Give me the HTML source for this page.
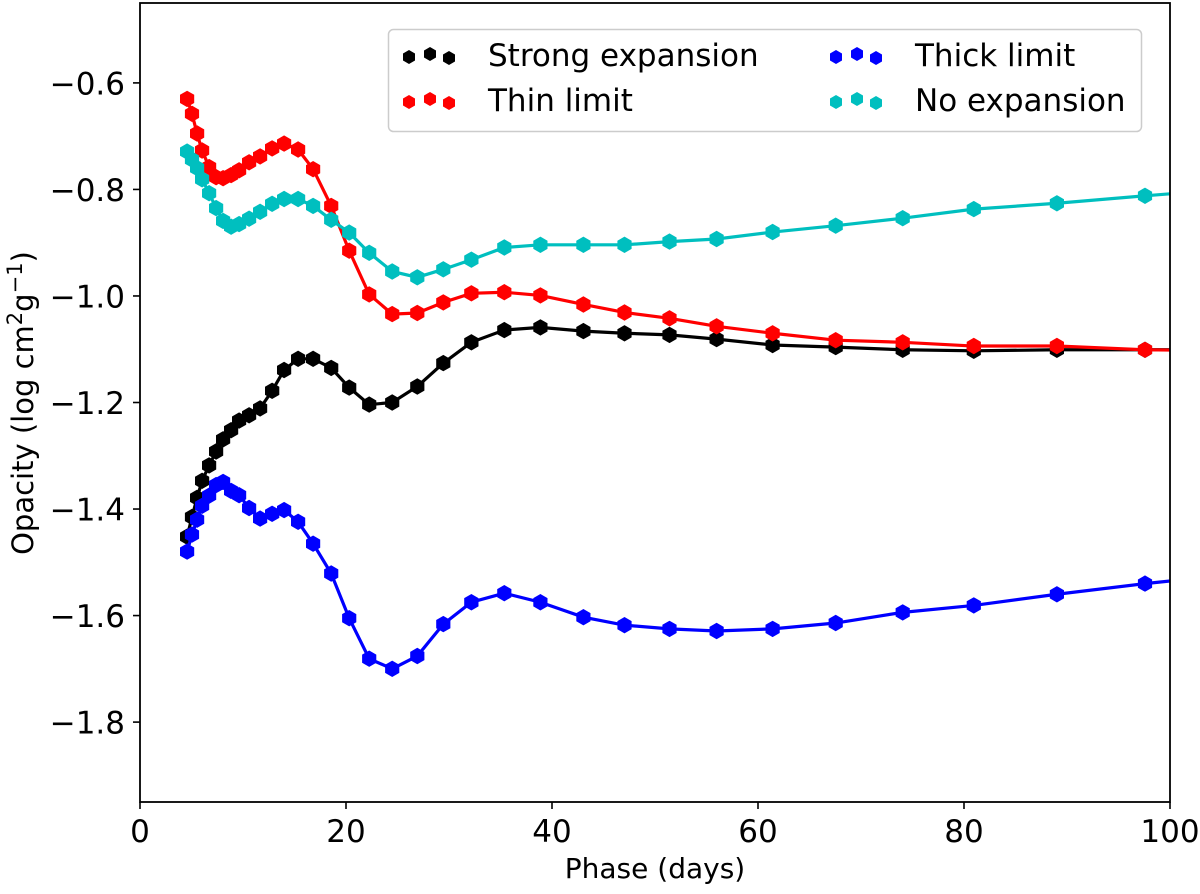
<!DOCTYPE html>
<html><head><meta charset="utf-8"><style>
body{margin:0;background:#fff}
svg text{font-family:"DejaVu Sans","Liberation Sans",sans-serif;fill:#000}
</style></head><body>
<svg id="chart" width="1200" height="889" xmlns="http://www.w3.org/2000/svg"></svg>
<script>
const phase=[4.57,5.05,5.54,6.03,6.71,7.39,8.07,8.84,9.62,10.59,11.66,12.83,13.99,15.35,16.81,18.56,20.31,22.25,24.49,26.92,29.45,32.17,35.37,38.87,43.05,47.04,51.41,55.98,61.42,67.54,74.05,80.95,89.02,97.57,106.5];
const strongExpansion=[-1.452,-1.415,-1.379,-1.347,-1.318,-1.292,-1.269,-1.252,-1.234,-1.224,-1.211,-1.178,-1.139,-1.118,-1.118,-1.135,-1.172,-1.204,-1.200,-1.170,-1.126,-1.087,-1.064,-1.059,-1.066,-1.070,-1.073,-1.081,-1.092,-1.096,-1.101,-1.103,-1.101,-1.101,-1.101];
const thinLimit=[-0.630,-0.658,-0.695,-0.727,-0.758,-0.777,-0.779,-0.773,-0.764,-0.749,-0.738,-0.723,-0.714,-0.725,-0.762,-0.831,-0.915,-0.997,-1.034,-1.032,-1.012,-0.995,-0.993,-0.999,-1.016,-1.031,-1.042,-1.057,-1.070,-1.083,-1.087,-1.094,-1.094,-1.101,-1.103];
const thickLimit=[-1.480,-1.448,-1.420,-1.394,-1.375,-1.355,-1.349,-1.366,-1.374,-1.398,-1.418,-1.409,-1.402,-1.424,-1.465,-1.521,-1.605,-1.681,-1.700,-1.676,-1.616,-1.575,-1.558,-1.575,-1.603,-1.618,-1.625,-1.629,-1.625,-1.614,-1.594,-1.581,-1.560,-1.540,-1.522];
const noExpansion=[-0.729,-0.744,-0.760,-0.781,-0.807,-0.835,-0.859,-0.870,-0.865,-0.855,-0.842,-0.827,-0.818,-0.818,-0.831,-0.857,-0.881,-0.919,-0.954,-0.965,-0.950,-0.932,-0.909,-0.904,-0.904,-0.904,-0.898,-0.893,-0.880,-0.868,-0.854,-0.837,-0.826,-0.812,-0.798];
const xTicks=[0,20,40,60,80,100];
const yTicks=[-0.6,-0.8,-1.0,-1.2,-1.4,-1.6,-1.8];

const L=140,R=1170,T=3,B=802,X0=0,X1=100,Y0=-1.95,Y1=-0.45;
const sx=v=>L+(v-X0)/(X1-X0)*(R-L);
const sy=v=>B-(v-Y0)/(Y1-Y0)*(B-T);
const svg=document.getElementById('chart');
const NS='http://www.w3.org/2000/svg';
function mk(tag,attrs,parent){const e=document.createElementNS(NS,tag);for(const k in attrs)e.setAttribute(k,attrs[k]);(parent||svg).appendChild(e);return e;}
function hexPts(cx,cy,r){let p=[];for(let i=0;i<6;i++){const a=Math.PI/180*(60*i-90);p.push((cx+r*Math.cos(a)).toFixed(1)+','+(cy+r*Math.sin(a)).toFixed(1));}return p.join(' ');}

const clip=mk('clipPath',{id:'pc'});mk('rect',{x:L,y:T,width:R-L,height:B-T},clip);

const series=[[strongExpansion,'#000','strong-expansion'],[thinLimit,'#ff0000','thin-limit'],[thickLimit,'#0000ff','thick-limit'],[noExpansion,'#00bfbf','no-expansion']];
series.forEach(([vals,col,name])=>{
  const g=mk('g',{'clip-path':'url(#pc)'});
  
  
  const line=mk('polyline',{points:vals.map((v,i)=>sx(phase[i])+','+sy(v)).join(' '),fill:'none',stroke:col,'stroke-width':3.2},g);
  
  
  vals.forEach((v,i)=>{
    const m=mk('polygon',{points:hexPts(sx(phase[i]),sy(v),8.2),fill:col},g);
    
    
  });
});

const frame=mk('rect',{x:L,y:T,width:R-L,height:B-T,fill:'none',stroke:'#000','stroke-width':1.8});



xTicks.forEach(t=>{
  const x=sx(t);
  mk('line',{x1:x,x2:x,y1:B,y2:B+7,stroke:'#000','stroke-width':1.6});
  const tx=mk('text',{x:x,y:842,'text-anchor':'middle','font-size':31});
  tx.textContent=t;
  
  
});
yTicks.forEach(t=>{
  const y=sy(t);
  mk('line',{x1:L-7,x2:L,y1:y,y2:y,stroke:'#000','stroke-width':1.6});
  const tx=mk('text',{x:125,y:y+11.5,'text-anchor':'end','font-size':31});
  tx.textContent='\u2212'+Math.abs(t).toFixed(1);
  
  
});
</script>
<svg style="position:absolute;left:0;top:0" width="1200" height="889" xmlns="http://www.w3.org/2000/svg">
<text x="655" y="878" text-anchor="middle" font-size="28">Phase (days)</text>
<text transform="translate(33,403) rotate(-90)" text-anchor="middle" font-size="29">Opacity (log cm<tspan font-size="21" dy="-11">2</tspan><tspan dy="11">g</tspan><tspan font-size="21" dy="-11">−1</tspan><tspan dy="11">)</tspan></text>
<g>
<rect x="388.5" y="29.5" width="753" height="102" rx="5" fill="#fff" fill-opacity="0.85" stroke="#cccccc" stroke-width="1.5"/>
<g fill="#000">
<polygon points="409,50 415,53.5 415,60.5 409,64 403,60.5 403,53.5"/><polygon points="430,47 436,50.5 436,57.5 430,61 424,57.5 424,50.5"/><polygon points="449,51 455,54.5 455,61.5 449,65 443,61.5 443,54.5"/>
<text x="488" y="66" font-size="31">Strong expansion</text></g>
<g fill="#ff0000">
<polygon points="409,95 415,98.5 415,105.5 409,109 403,105.5 403,98.5"/><polygon points="430,92 436,95.5 436,102.5 430,106 424,102.5 424,95.5"/><polygon points="449,96 455,99.5 455,106.5 449,110 443,106.5 443,99.5"/>
<text x="488" y="111" font-size="31" style="fill:#000">Thin limit</text></g>
<g fill="#0000ff">
<polygon points="836,50 842,53.5 842,60.5 836,64 830,60.5 830,53.5"/><polygon points="857,47 863,50.5 863,57.5 857,61 851,57.5 851,50.5"/><polygon points="876,51 882,54.5 882,61.5 876,65 870,61.5 870,54.5"/>
<text x="915" y="66" font-size="31" style="fill:#000">Thick limit</text></g>
<g fill="#00bfbf">
<polygon points="836,95 842,98.5 842,105.5 836,109 830,105.5 830,98.5"/><polygon points="857,92 863,95.5 863,102.5 857,106 851,102.5 851,95.5"/><polygon points="876,96 882,99.5 882,106.5 876,110 870,106.5 870,99.5"/>
<text x="915" y="111" font-size="31" style="fill:#000">No expansion</text></g>
</g>
</svg>
</body></html>
